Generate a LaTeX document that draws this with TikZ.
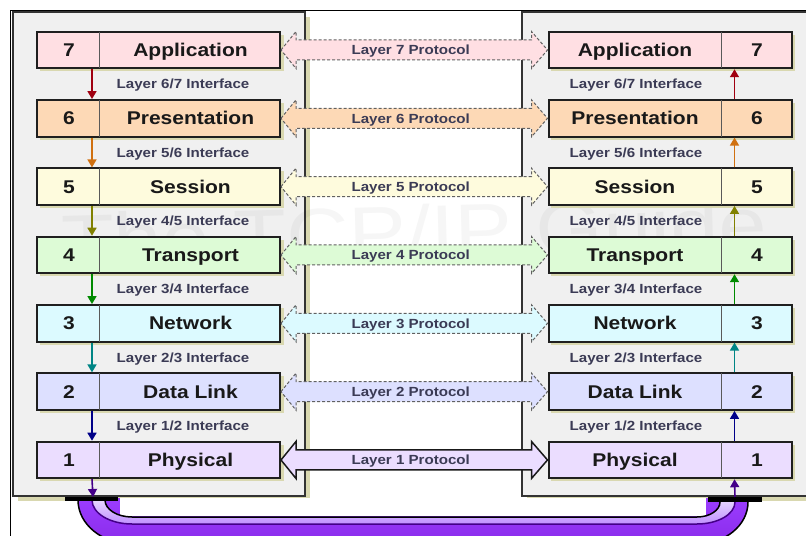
\documentclass[tikz,border=0pt]{standalone}
\usepackage{fontspec}
\setmainfont{Liberation Sans}
\newfontfamily\dfont{Liberation Sans}[FakeStretch=1.14]
\usetikzlibrary{arrows.meta,calc}
\definecolor{c7}{HTML}{FFDFE3}
\definecolor{c6}{HTML}{FDD9B6}
\definecolor{c5}{HTML}{FEFBDD}
\definecolor{c4}{HTML}{DDFBD6}
\definecolor{c3}{HTML}{DCFAFF}
\definecolor{c2}{HTML}{DDE0FF}
\definecolor{c1}{HTML}{EBDDFF}
\definecolor{a7}{HTML}{A00010}
\definecolor{a6}{HTML}{D07010}
\definecolor{a5}{HTML}{808000}
\definecolor{a4}{HTML}{008A00}
\definecolor{a3}{HTML}{008585}
\definecolor{a2}{HTML}{000088}
\definecolor{a1}{HTML}{440088}
\definecolor{panelc}{HTML}{F0F0F0}
\definecolor{shadowc}{HTML}{D9D8B0}
\definecolor{lblc}{HTML}{3B3B55}
\definecolor{cablev}{HTML}{9B3DFF}
\definecolor{cabled}{HTML}{8A2BEA}
\definecolor{cablep}{HTML}{EADCFF}
\definecolor{cablem}{HTML}{C090FF}
\begin{document}
\begin{tikzpicture}[x=1bp,y=-1bp,
  lbox/.style={draw=black!88, line width=2bp, inner sep=0pt, minimum width=243bp, minimum height=36.5bp},
  bigtxt/.style={font=\dfont\bfseries\fontsize{18.5}{20}\selectfont, text=black!90, inner sep=0pt, text height=13.3bp, text depth=0bp},
  smalltxt/.style={font=\dfont\bfseries\fontsize{13.3}{15}\selectfont, text=lblc, inner sep=0pt, text height=9.6bp, text depth=0bp},
  divider/.style={draw=black!65, line width=1bp},
  proto/.style={draw=black!62, line width=1bp, dash pattern=on 3bp off 2bp},
  protoone/.style={draw=black!90, line width=1.5bp},
  iface/.style={line width=1.6bp, -{Triangle[width=9bp,length=8bp]}},
  panel/.style={fill=panelc, draw=black!80, line width=2bp},
  shade/.style={fill=shadowc}
]
\useasboundingbox (0,0) rectangle (806,536);
\clip (0,0) rectangle (806,536);
\fill[white] (0,0) rectangle (806,536);
% frame
\draw[line width=1bp] (10.5,536) -- (10.5,10.5) -- (806,10.5);
% panels
\fill[shade] (18,17) rectangle (310,501);
\fill[shade] (526.5,17) rectangle (830,501);
\path[panel] (13,12) rectangle (305,496);
\path[panel] (521.5,12) rectangle (825,496);
% watermark
\node[font=\dfont\fontsize{76}{76}\selectfont, text=black, opacity=0.035, rotate=1.5] (wm) at (414,232) {The TCP/IP Guide};
% boxes
\foreach \i/\nm/\fc in {7/Application/c7,6/Presentation/c6,5/Session/c5,4/Transport/c4,3/Network/c3,2/Data Link/c2,1/Physical/c1}{
  \pgfmathsetmacro\cy{50+(7-\i)*68.33}
  \fill[shade] (40,\cy-15.25) rectangle (284,\cy+21.25);
  \fill[shade] (551,\cy-15.25) rectangle (795,\cy+21.25);
  \node[lbox, fill=\fc] (L\i) at (158.5,\cy) {};
  \node[lbox, fill=\fc] (R\i) at (670,\cy) {};
}
% protocol arrows
\foreach \i/\fc/\st in {7/c7/proto,6/c6/proto,5/c5/proto,4/c4/proto,3/c3/proto,2/c2/proto,1/c1/protoone}{
  \draw[\st, fill=\fc] (L\i.east) -- ++(15,-18.5) -- ++(0,8.5) -- ($(R\i.west)+(-16,-10)$) -- ++(0,-8.5) -- (R\i.west) -- ++(-16,18.5) -- ++(0,-8.5) -- ($(L\i.east)+(15,10)$) -- ++(0,8.5) -- cycle;
  \node[smalltxt, xshift=-3.5bp] (P\i) at ($(L\i.east)!0.5!(R\i.west)$) {Layer \i\ Protocol};
}
% box contents
\foreach \i/\nm in {7/Application,6/Presentation,5/Session,4/Transport,3/Network,2/Data Link,1/Physical}{
  \draw[divider] ($(L\i.north west)+(64,1)$) -- ($(L\i.south west)+(64,-1)$);
  \draw[divider] ($(R\i.north west)+(174,1)$) -- ($(R\i.south west)+(174,-1)$);
  \node[bigtxt, xshift=-89.5bp] (LN\i) at (L\i) {\i};
  \node[bigtxt, xshift=32bp] (LA\i) at (L\i) {\nm};
  \node[bigtxt, xshift=87bp] (RN\i) at (R\i) {\i};
  \node[bigtxt, xshift=-35bp] (RA\i) at (R\i) {\nm};
}
% interface arrows and labels
\foreach \i/\j/\ac in {7/6/a7,6/5/a6,5/4/a5,4/3/a4,3/2/a3,2/1/a2}{
  \draw[iface, draw=\ac, fill=\ac] ($(L\i.south west)+(56,0)$) -- ($(L\j.north west)+(56,0)$);
  \draw[iface, draw=\ac, fill=\ac] ($(R\j.north west)+(187,0)$) -- ($(R\i.south west)+(187,0)$);
  \node[smalltxt, xshift=24.5bp] (LI\i) at ($(L\i.south)!0.5!(L\j.north)$) {Layer \j/\i\ Interface};
  \node[smalltxt, xshift=-34bp] (RI\i) at ($(R\i.south)!0.5!(R\j.north)$) {Layer \j/\i\ Interface};
}
% cable
\coordinate (barL) at (93,497);
\coordinate (barR) at (735,497);
\path[top color=cablev, bottom color=cabled] (78,498) -- (78,500) arc[start angle=180,end angle=90,x radius=54,y radius=44] -- (697,544) arc[start angle=90,end angle=0,x radius=51,y radius=42] -- (748,498) -- cycle;
\path[top color=cablep, bottom color=cablem] (92,498) -- (92,500) arc[start angle=180,end angle=90,x radius=40,y radius=24] -- (697,524) arc[start angle=90,end angle=0,x radius=38,y radius=22] -- (735,498) -- (720,498) -- (720,502) arc[start angle=0,end angle=90,x radius=23,y radius=15] -- (132,517) arc[start angle=90,end angle=180,x radius=27,y radius=17] -- (105,498) -- cycle;
\fill[white] (120,498) rectangle (706,516);
\draw[line width=1.5bp] (78,498) -- (78,500) arc[start angle=180,end angle=90,x radius=54,y radius=44] -- (697,544) arc[start angle=90,end angle=0,x radius=51,y radius=42] -- (748,498);
\draw[line width=1.5bp] (720,498) -- (720,502) arc[start angle=0,end angle=90,x radius=23,y radius=15] -- (132,517) arc[start angle=90,end angle=180,x radius=27,y radius=17] -- (105,498);
\draw[a1, line width=1.5bp] (barL) -- (92,500) arc[start angle=180,end angle=90,x radius=40,y radius=24] -- (697,524) arc[start angle=90,end angle=0,x radius=38,y radius=22] -- (barR);
\fill (65,496.5) rectangle (118,501);
\fill (708,496.5) rectangle (762,501.5);
\draw[iface, draw=a1, fill=a1] ($(L1.south west)+(56,0)$) -- (barL);
\draw[iface, draw=a1, fill=a1] (barR) -- ($(R1.south west)+(187,0)$);
\end{tikzpicture}
\end{document}
